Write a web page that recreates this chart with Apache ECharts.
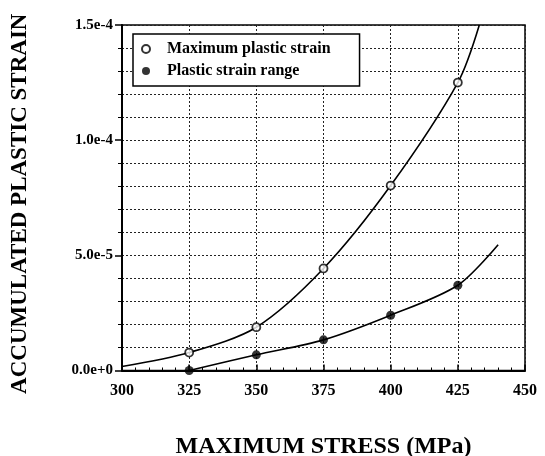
<!DOCTYPE html>
<html>
<head>
<meta charset="utf-8">
<script src="https://cdn.jsdelivr.net/npm/echarts@6/dist/echarts.min.js"></script>
<style>
  html, body { margin: 0; padding: 0; background: #fff; }
  #chart { width: 545px; height: 456px; }
</style>
</head>
<body>
<div id="chart"></div>
<script>
// Measured points (MPa, accumulated plastic strain)
const stress = [325, 350, 375, 400, 425];
const maxPlasticStrain = [7.8e-6, 18.8e-6, 44.3e-6, 80.3e-6, 125e-6];
const plasticStrainRange = [0, 6.8e-6, 13.3e-6, 24e-6, 37e-6];

// Fitted trend curves through the measurements
const maxFitStress = [300, 325, 350, 375, 400, 425, 433];
const maxFitStrain = [1.7e-6, 7.8e-6, 18.8e-6, 44.3e-6, 80.3e-6, 125e-6, 150e-6];
const rangeFitStress = [325, 350, 375, 400, 425, 440];
const rangeFitStrain = [0, 6.8e-6, 13.3e-6, 24e-6, 37e-6, 54.6e-6];

const seriesNames = ['Maximum plastic strain', 'Plastic strain range'];
const xTitle = 'MAXIMUM STRESS (MPa)';
const yTitle = 'ACCUMULATED PLASTIC STRAIN';

const serif = "'Liberation Serif', 'Times New Roman', serif";
const pairs = (xs, ys) => xs.map((x, i) => [x, ys[i]]);
const dotted = { type: [2, 2], color: '#222', width: 1 };

const chart = echarts.init(document.getElementById('chart'), null, { renderer: 'canvas' });
chart.setOption({
  animation: false,
  backgroundColor: '#fff',
  grid: {
    left: 122, right: 20, top: 25, bottom: 85.5,
    outerBoundsMode: 'none', containLabel: false,
    show: true, borderColor: '#000', borderWidth: 1.5, backgroundColor: 'transparent'
  },
  legend: {
    data: seriesNames,
    orient: 'vertical',
    left: 133, top: 34,
    padding: [7, 29, 7, 8],
    itemGap: 6,
    itemWidth: 8, itemHeight: 8,
    backgroundColor: '#fff',
    borderColor: '#000', borderWidth: 1.5, borderRadius: 0,
    textStyle: { fontFamily: serif, fontWeight: 'bold', fontSize: 16, color: '#000', padding: [0, 0, 0, 12] }
  },
  xAxis: {
    type: 'value', min: 300, max: 450, interval: 25,
    name: xTitle, nameLocation: 'middle', nameGap: 64,
    nameTextStyle: { fontFamily: serif, fontWeight: 'bold', fontSize: 24, color: '#000' },
    axisLine: { show: true, onZero: false, lineStyle: { color: '#000', width: 2 } },
    axisTick: { show: true, inside: true, length: 6, lineStyle: { color: '#000', width: 1.5 } },
    minorTick: { show: true, splitNumber: 5, length: 3, lineStyle: { color: '#000', width: 1 } },
    axisLabel: { fontFamily: serif, fontWeight: 'bold', fontSize: 16, color: '#000', margin: 12 },
    splitLine: { show: true, lineStyle: dotted }
  },
  yAxis: {
    type: 'value', min: 0, max: 1.5e-4, interval: 5e-5,
    name: yTitle, nameLocation: 'middle', nameGap: 90, nameRotate: 90,
    nameTextStyle: { fontFamily: serif, fontWeight: 'bold', fontSize: 23, color: '#000', padding: [0, 12, 0, 0] },
    axisLine: { show: true, onZero: false, lineStyle: { color: '#000', width: 2 } },
    axisTick: { show: true, inside: false, length: 7, lineStyle: { color: '#000', width: 1.5 } },
    minorTick: { show: true, splitNumber: 5, length: 4, lineStyle: { color: '#000', width: 1 } },
    axisLabel: {
      fontFamily: serif, fontWeight: 'bold', fontSize: 15, color: '#000', margin: 9,
      formatter: v => Number(v).toExponential(1)
    },
    splitLine: { show: true, lineStyle: dotted },
    minorSplitLine: { show: true, lineStyle: dotted }
  },
  series: [
    {
      name: 'maxFit', type: 'line', data: pairs(maxFitStress, maxFitStrain),
      smooth: 0.3, showSymbol: false, silent: true,
      lineStyle: { color: '#000', width: 1.6 }, z: 3
    },
    {
      name: 'rangeFit', type: 'line', data: pairs(rangeFitStress, rangeFitStrain),
      smooth: 0.3, showSymbol: false, silent: true,
      lineStyle: { color: '#000', width: 1.6 }, z: 3
    },
    {
      name: seriesNames[0], type: 'scatter', data: pairs(stress, maxPlasticStrain),
      symbol: 'circle', symbolSize: 8,
      itemStyle: { color: '#fff', borderColor: '#000', borderWidth: 1.8 }, z: 5
    },
    {
      name: seriesNames[1], type: 'scatter', data: pairs(stress, plasticStrainRange),
      symbol: 'circle', symbolSize: 9,
      itemStyle: { color: '#000' }, z: 5
    }
  ]
});
</script>
</body>
</html>
